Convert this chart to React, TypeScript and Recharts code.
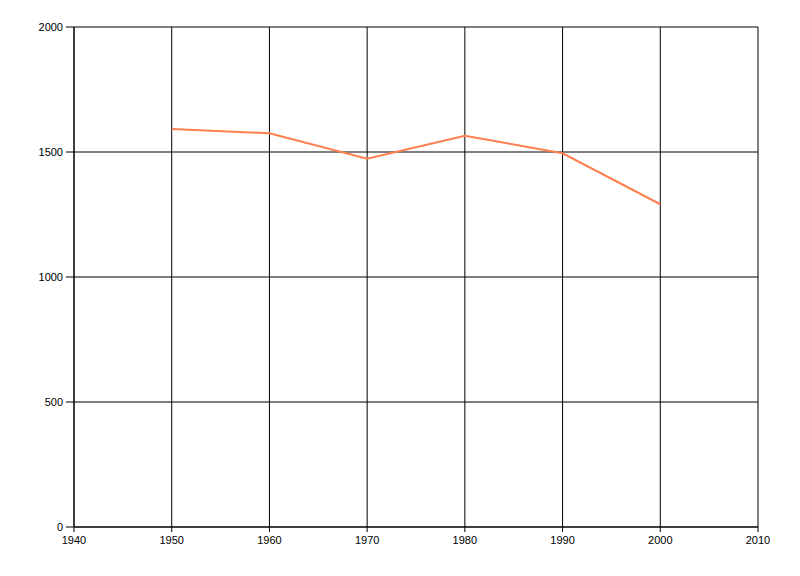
import React from 'react';
import { LineChart, Line, XAxis, YAxis, CartesianGrid } from 'recharts';

const years = [1950, 1960, 1970, 1980, 1990, 2000];
const values = [1592, 1575, 1473, 1565, 1495, 1291];
const xTicks = [1940, 1950, 1960, 1970, 1980, 1990, 2000, 2010];
const yTicks = [0, 500, 1000, 1500, 2000];

const data = years.map((year, i) => ({ year, value: values[i] }));

const tickStyle = { fill: '#000', fontSize: 11, fontFamily: '"Liberation Sans", Arial, sans-serif' };

const App: React.FC = () => {
  return (
    <div style={{ position: 'absolute', left: 0, top: 0, width: 800, height: 576, background: '#fff' }}>
      <LineChart
        width={800}
        height={576}
        data={data}
        margin={{ top: 27, right: 42, left: 0, bottom: 0 }}
      >
        <CartesianGrid stroke="#000" strokeOpacity={1} />
        <XAxis
          dataKey="year"
          type="number"
          domain={[1940, 2010]}
          ticks={xTicks}
          interval={0}
          height={49}
          stroke="#000"
          tickSize={5}
          tickMargin={4}
          tick={tickStyle}
        />
        <YAxis
          type="number"
          domain={[0, 2000]}
          ticks={yTicks}
          interval={0}
          width={74}
          stroke="#000"
          tickSize={8}
          tickMargin={3}
          tick={tickStyle}
        />
        <Line
          type="linear"
          dataKey="value"
          stroke="#FF7F50"
          strokeWidth={2}
          dot={false}
          activeDot={false}
          isAnimationActive={false}
        />
      </LineChart>
    </div>
  );
};

export default App;
